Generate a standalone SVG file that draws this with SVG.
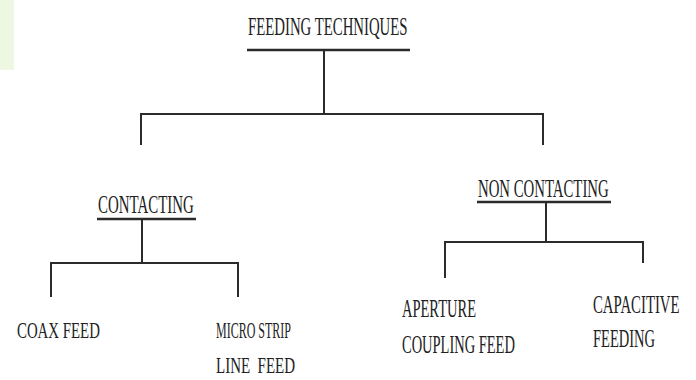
<svg xmlns="http://www.w3.org/2000/svg" width="696" height="380" viewBox="0 0 696 380">
<rect width="696" height="380" fill="#fff"/>
<rect x="0" y="0" width="14" height="70" fill="#eef7e2"/>
<g font-family="Liberation Serif" font-size="25" fill="#222">
<g id="root">
<text x="0" y="35" transform="translate(248 0) scale(0.592 1)">FEEDING TECHNIQUES</text>
</g>
<g id="contacting">
<text x="0" y="213" transform="translate(98 0) scale(0.597 1)">CONTACTING</text>
</g>
<g id="noncontacting">
<text x="0" y="197" transform="translate(478 0) scale(0.592 1)">NON CONTACTING</text>
</g>
<g id="coax">
<text x="0" y="338" font-size="24" transform="translate(17 0) scale(0.619 1)">COAX FEED</text>
</g>
<g id="microstrip">
<text x="0" y="338" font-size="24" transform="translate(216 0) scale(0.5 1)">MICRO STRIP</text>
<text x="0" y="373" font-size="24" xml:space="preserve" transform="translate(216 0) scale(0.624 1)">LINE  FEED</text>
</g>
<g id="aperture">
<text x="0" y="317" transform="translate(402 0) scale(0.58 1)">APERTURE</text>
<text x="0" y="353" transform="translate(402 0) scale(0.579 1)">COUPLING FEED</text>
</g>
<g id="capacitive">
<text x="0" y="313" transform="translate(593 0) scale(0.592 1)">CAPACITIVE</text>
<text x="0" y="347" transform="translate(593 0) scale(0.58 1)">FEEDING</text>
</g>
</g>
<g id="connectors" stroke="#2b2b2b" stroke-width="2" fill="none">
<path d="M324 50V114M141 145V114H543V145"/>
<path d="M142 219V263M51 297V263H238V297"/>
<path d="M546 202V242M445 278V242H643V263"/>
<path stroke-width="2.5" d="M247 50H410M97 219H196M477 202H611"/>
</g>
</svg>
